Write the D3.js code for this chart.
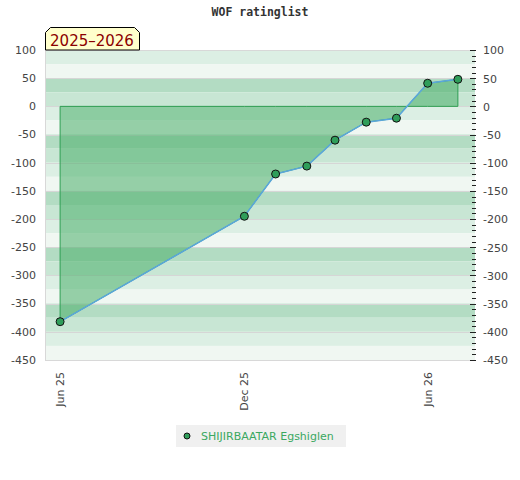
<!DOCTYPE html>
<html><head><meta charset="utf-8">
<script src="https://cdn.jsdelivr.net/npm/d3@7"></script>
<style>body{margin:0;background:#fff}svg{display:block}</style>
</head><body>
<svg id="c" width="520" height="480"></svg>
<script>
const title = "WOF ratinglist";
const seasonLabel = "2025\u20132026";
const seriesName = "SHIJIRBAATAR Egshiglen";
const dates = ["2025-06-01","2025-12-01","2026-01-01","2026-02-01","2026-03-01","2026-04-01","2026-05-01","2026-06-01","2026-07-01"];
const values = [-382,-195,-120,-106,-60,-28,-21,41,48];
const xTickDates = ["2025-06-01","2025-12-01","2026-06-01"];
const xTickLabels = ["Jun 25","Dec 25","Jun 26"];
const yTicks = [100,50,0,-50,-100,-150,-200,-250,-300,-350,-400,-450];
const bandColors = ["#dcefe4","#f0f7f2","#b3dcc3","#c8e6d4"];

const parse = d3.utcParse("%Y-%m-%d");
const data = dates.map((d,i)=>({date:parse(d), v:values[i]}));
const svg = d3.select("#c");
const L=45,R=475,T=50,B=360;
const x = d3.scaleUtc().domain([parse("2025-05-17"), parse("2026-07-18")]).range([L,R]);
const y = d3.scaleLinear().domain([-450,100]).range([B,T]);

const bands = d3.range(100,-450,-25);
svg.append("g").selectAll("rect").data(bands).join("rect")
  .attr("x",L).attr("width",R-L)
  .attr("y",d=>y(d)).attr("height",d=>y(d-25)-y(d))
  .attr("fill",(d,i)=>bandColors[i%4]);
svg.append("g").selectAll("line").data(yTicks).join("line")
  .attr("x1",L).attr("x2",R).attr("y1",d=>Math.round(y(d))+0.5).attr("y2",d=>Math.round(y(d))+0.5)
  .attr("stroke","#d6d6d6").attr("stroke-width",1);
svg.append("path").attr("d",`M${L+0.5},${T}V${B+0.5}H${R}`).attr("fill","none").attr("stroke","#d8d8d8");
svg.append("line").attr("x1",L).attr("x2",R).attr("y1",T+0.5).attr("y2",T+0.5).attr("stroke","#d8d8d8");

const area = d3.area().x(d=>x(d.date)).y0(y(0)).y1(d=>y(d.v));
svg.append("path").datum(data).attr("d",area)
  .attr("fill","rgb(74,175,106)").attr("fill-opacity",0.55)
  .attr("stroke","#2e9e52").attr("stroke-width",1);
svg.append("path").datum(data).attr("d",d3.line().x(d=>x(d.date)).y(d=>y(d.v)))
  .attr("fill","none").attr("stroke","#5aa6dc").attr("stroke-width",1.5);
svg.append("g").selectAll("circle").data(data).join("circle")
  .attr("cx",d=>x(d.date)).attr("cy",d=>y(d.v)).attr("r",4)
  .attr("fill","#2f9e5a").attr("stroke","#111").attr("stroke-width",1);

const font = "DejaVu Sans, Verdana, sans-serif";
svg.append("g").selectAll("text").data(yTicks).join("text")
  .attr("x",36).attr("y",d=>y(d)).attr("dy","0.35em").attr("text-anchor","end")
  .attr("font-family",font).attr("font-size",11).attr("fill","#444").text(d=>d);
const rightAxis = d3.axisRight(y).tickValues(yTicks).tickSize(0).tickPadding(0).tickFormat(d=>d);
const ra = svg.append("g").attr("transform",`translate(${R+8},0)`).call(rightAxis);
ra.select(".domain").remove();
ra.selectAll("text").attr("font-family",font).attr("font-size",11).attr("fill","#444").attr("x",0).attr("dy","0.35em");
svg.append("g").selectAll("line").data(d3.range(-450,101,10)).join("line")
  .attr("x1",d=>d%50===0?470:472).attr("x2",476)
  .attr("y1",d=>Math.round(y(d))+0.5).attr("y2",d=>Math.round(y(d))+0.5)
  .attr("stroke","#222").attr("stroke-width",1);

svg.append("g").selectAll("text").data(xTickDates).join("text")
  .attr("transform",d=>`translate(${x(parse(d))},372) rotate(-90)`)
  .attr("text-anchor","end").attr("dy","0.35em")
  .attr("font-family",font).attr("font-size",11).attr("fill","#444")
  .text((d,i)=>xTickLabels[i]);

svg.append("text").attr("x",260).attr("y",16).attr("text-anchor","middle")
  .attr("font-family","DejaVu Sans Mono, monospace").attr("font-weight","bold").attr("font-size",11.5)
  .attr("fill","#333").text(title);

svg.append("path").attr("d",`M${L+0.5},${T}V32.5L50.5,27.5H134.5L139.5,32.5V${T}Z`)
  .attr("fill","#ffffcc").attr("stroke","#000").attr("stroke-width",1);
svg.append("text").attr("x",92).attr("y",45.5).attr("text-anchor","middle")
  .attr("font-family",font).attr("font-size",15).attr("fill","#8b0000").text(seasonLabel);

svg.append("rect").attr("x",176).attr("y",425).attr("width",170).attr("height",22).attr("fill","#f0f0f0");
svg.append("circle").attr("cx",187).attr("cy",436).attr("r",3).attr("fill","#2f9e5a").attr("stroke","#111");
svg.append("text").attr("x",201).attr("y",436).attr("dy","0.35em")
  .attr("font-family",font).attr("font-size",11).attr("fill","#3aa860").text(seriesName);
</script>
</body></html>
